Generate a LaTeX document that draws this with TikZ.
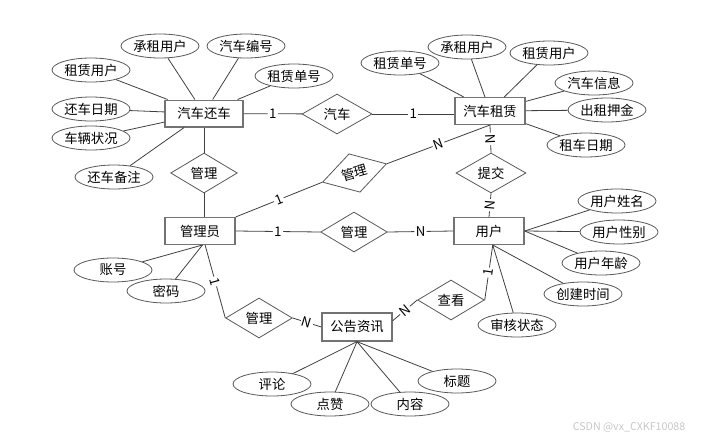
\documentclass[tikz,border=0pt]{standalone}
\usepackage{fontspec}
\setmainfont{Noto Sans CJK SC}
\usetikzlibrary{positioning,shapes.geometric}

\tikzset{
  entity/.style={rectangle, draw=black!55, line width=1pt, fill=white,
    minimum width=52.5pt, minimum height=20pt, inner sep=2pt},
  rel/.style={diamond, draw=black!65, line width=0.6pt, fill=white,
    minimum width=50pt, minimum height=30pt, inner sep=0pt},
  attr/.style={ellipse, draw=black!65, line width=0.6pt, fill=white,
    minimum width=58.5pt, minimum height=18pt, inner sep=0pt},
  link/.style={draw=black!75, line width=0.6pt},
  card/.style={fill=white, inner sep=1pt, midway, sloped},
}

\begin{document}
\begin{tikzpicture}[x=0.75pt, y=-0.75pt, font=\fontsize{10}{12}\selectfont]
\useasboundingbox (0,0) rectangle (708,440);

% entities
\node [entity, minimum width=58.5pt] (huanche) at (204,113.5) {汽车还车};
\node [entity] (zulin) at (490,111) {汽车租赁};
\node [entity] (admin) at (200,231) {管理员};
\node [entity] (yonghu) at (489,231) {用户};
\node [entity, minimum height=21pt] (gonggao) at (357,327) {公告资讯};

% relations
\node [rel, minimum width=52.5pt] (qiche) at (337,114) {汽车};
\node [rel] (guanli1) at (204,173) {管理};
\node [rel, rotate=16] (guanli2) at (354.5,173) {管理};
\node [rel] (guanli3) at (354,232) {管理};
\node [rel] (guanli4) at (259,318) {管理};
\node [rel, minimum width=52.5pt] (tijiao) at (491,173) {提交};
\node [rel] (chakan) at (451,300) {查看};

% attributes
\foreach \t/\x/\y [count=\i] in {承租用户/160/46, 汽车编号/246/46, 租赁用户/91/70,
    租赁单号/294/76, 还车日期/91/109, 车辆状况/91/138, 还车备注/114/177} {
  \node [attr] (h\i) at (\x,\y) {\t};
  \draw [link] (huanche) -- (h\i);
}

\foreach \t/\x/\y [count=\i] in {租赁单号/400/63, 承租用户/467/47, 租赁用户/549/53,
    汽车信息/594/83, 出租押金/607/110, 租车日期/586/145} {
  \node [attr] (z\i) at (\x,\y) {\t};
  \draw [link] (zulin) -- (z\i);
}

\foreach \t/\x/\y [count=\i] in {用户姓名/617/201, 用户性别/619/232, 用户年龄/601/263} {
  \node [attr] (u\i) at (\x,\y) {\t};
  \draw [link] (yonghu.east) -- (u\i);
}
\foreach \t/\x/\y [count=\i from 4] in {创建时间/583/294, 审核状态/517/325} {
  \node [attr] (u\i) at (\x,\y) {\t};
  \draw [link] (yonghu.-75) -- (u\i);
}

\foreach \t/\x/\y [count=\i] in {账号/113/270, 密码/166/291} {
  \node [attr] (a\i) at (\x,\y) {\t};
  \draw [link] (admin.-80) -- (a\i);
}

\foreach \t/\x/\y [count=\i] in {评论/272/384, 点赞/330/404, 内容/410/404, 标题/457/381} {
  \draw [link] (gonggao.south) -- (\x,\y);
  \node [attr] (g\i) at (\x,\y) {\t};
}

% connections
\draw [link] (huanche) -- (qiche) node [card] {1};
\draw [link] (qiche.east) -- (qiche.east -| zulin.west) node [card] {1};
\draw [link] (huanche) -- (guanli1);
\draw [link] (guanli1.south) -- (guanli1.south |- admin.north);
\draw [link] (admin.north east) -- (guanli2.west) node [card] {1};
\draw [link] (guanli2.east) -- (zulin.south) node [card] {N};
\draw [link] (zulin.south) -- (tijiao.north) node [card] {N};
\draw [link] (tijiao.south) -- (yonghu.north) node [card] {N};
\draw [link] (admin.east) -- (guanli3.west) node [card] {1};
\draw [link] (guanli3.east) -- (yonghu.west) node [card] {N};
\draw [link] (admin.-70) -- (guanli4.west) node [card] {1};
\draw [link] (guanli4.east) -- (gonggao.west) node [card] {N};
\draw [link] (gonggao.10) -- (chakan.west) node [card] {N};
\draw [link] (chakan.east) -- (yonghu.-75) node [card] {1};

\node [text=black!22, font=\fontsize{8}{9}\selectfont, anchor=east] (mark) at (690,427) {CSDN @vx\_CXKF10088};

\end{tikzpicture}
\end{document}
